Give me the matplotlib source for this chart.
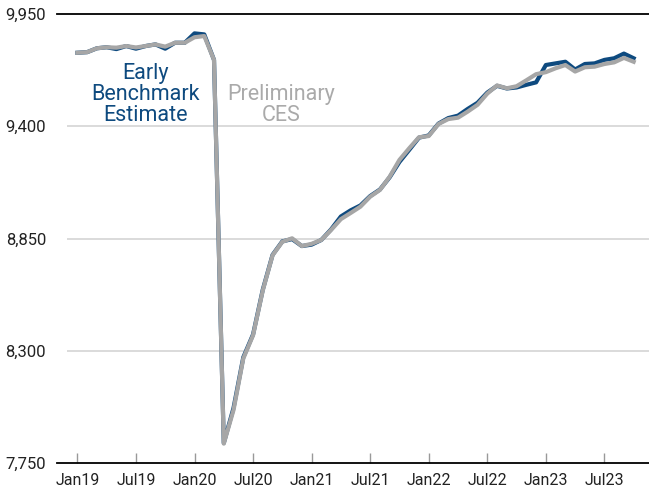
import matplotlib
matplotlib.use("Agg")
import matplotlib.pyplot as plt
import numpy as np

plt.rcParams['font.family'] = ['Roboto', 'DejaVu Sans']

# monthly series, Jan 2019 - Oct 2023 (thousands)
months = ['Jan19', 'Feb19', 'Mar19', 'Apr19', 'May19', 'Jun19', 'Jul19', 'Aug19', 'Sep19', 'Oct19', 'Nov19', 'Dec19',
          'Jan20', 'Feb20', 'Mar20', 'Apr20', 'May20', 'Jun20', 'Jul20', 'Aug20', 'Sep20', 'Oct20', 'Nov20', 'Dec20',
          'Jan21', 'Feb21', 'Mar21', 'Apr21', 'May21', 'Jun21', 'Jul21', 'Aug21', 'Sep21', 'Oct21', 'Nov21', 'Dec21',
          'Jan22', 'Feb22', 'Mar22', 'Apr22', 'May22', 'Jun22', 'Jul22', 'Aug22', 'Sep22', 'Oct22', 'Nov22', 'Dec22',
          'Jan23', 'Feb23', 'Mar23', 'Apr23', 'May23', 'Jun23', 'Jul23', 'Aug23', 'Sep23', 'Oct23']

early_benchmark = [9760, 9763, 9782, 9787, 9778, 9793, 9780, 9793, 9801, 9780, 9809, 9809,
                   9855, 9850, 9725, 7848, 8020, 8268, 8380, 8600, 8770, 8836, 8847, 8813,
                   8820, 8843, 8895, 8958, 8988, 9012, 9058, 9090, 9150, 9225, 9284, 9344,
                   9355, 9413, 9440, 9452, 9485, 9515, 9565, 9598, 9585, 9590, 9603, 9615,
                   9700, 9708, 9716, 9678, 9705, 9708, 9725, 9733, 9756, 9733]

preliminary_ces = [9760, 9763, 9782, 9787, 9785, 9793, 9786, 9793, 9801, 9790, 9809, 9809,
                   9836, 9842, 9725, 7845, 8010, 8262, 8376, 8596, 8768, 8834, 8851, 8813,
                   8824, 8843, 8892, 8945, 8975, 9006, 9055, 9088, 9153, 9235, 9292, 9346,
                   9352, 9411, 9435, 9442, 9472, 9505, 9560, 9600, 9586, 9596, 9625, 9655,
                   9665, 9684, 9700, 9668, 9689, 9692, 9705, 9713, 9735, 9716]

y_ticks = [7750, 8300, 8850, 9400, 9950]

blue = '#0e4a7f'
grey = '#a6a6a6'

fig = plt.figure(figsize=(6.49, 4.96), dpi=100)
ax = fig.add_axes([0.103, 0.0665, 0.897, 0.9053])

x = np.arange(len(months))
ax.plot(x, early_benchmark, color=blue, lw=3.0, solid_joinstyle='round', zorder=3)
ax.plot(x, preliminary_ces, color=grey, lw=3.0, solid_joinstyle='round', zorder=4)

ax.set_xlim(-1.08, 58.57)
ax.set_ylim(7750, 9950)

# gridlines
for v in y_ticks[1:-1]:
    ax.axhline(v, color='#d4d4d4', lw=1.2, zorder=1)
for v in (y_ticks[0], y_ticks[-1]):
    ax.plot([-0.017, 1], [v, v], color='black', lw=1.3, transform=ax.get_yaxis_transform(),
            clip_on=False, zorder=5)

for s in ax.spines.values():
    s.set_visible(False)

ax.set_yticks(y_ticks)
ax.set_yticklabels([f'{v:,}' for v in y_ticks])
ax.tick_params(axis='y', length=0, pad=15, labelsize=12, labelcolor='#222222')

tick_pos = x[::6]
ax.set_xticks(tick_pos)
ax.set_xticklabels(months[::6])
ax.tick_params(axis='x', direction='in', length=7, width=1, color='#999999', pad=7,
               labelsize=11.5, labelcolor='#222222')

ax.text(7.0, 9555, 'Early\nBenchmark\nEstimate', color=blue, fontsize=15.5,
        ha='center', va='center', linespacing=0.98)
ax.text(20.9, 9505, 'Preliminary\nCES', color='#aaaaaa', fontsize=15.5,
        ha='center', va='center', linespacing=0.98)

fig.savefig('out.png', dpi=100)
